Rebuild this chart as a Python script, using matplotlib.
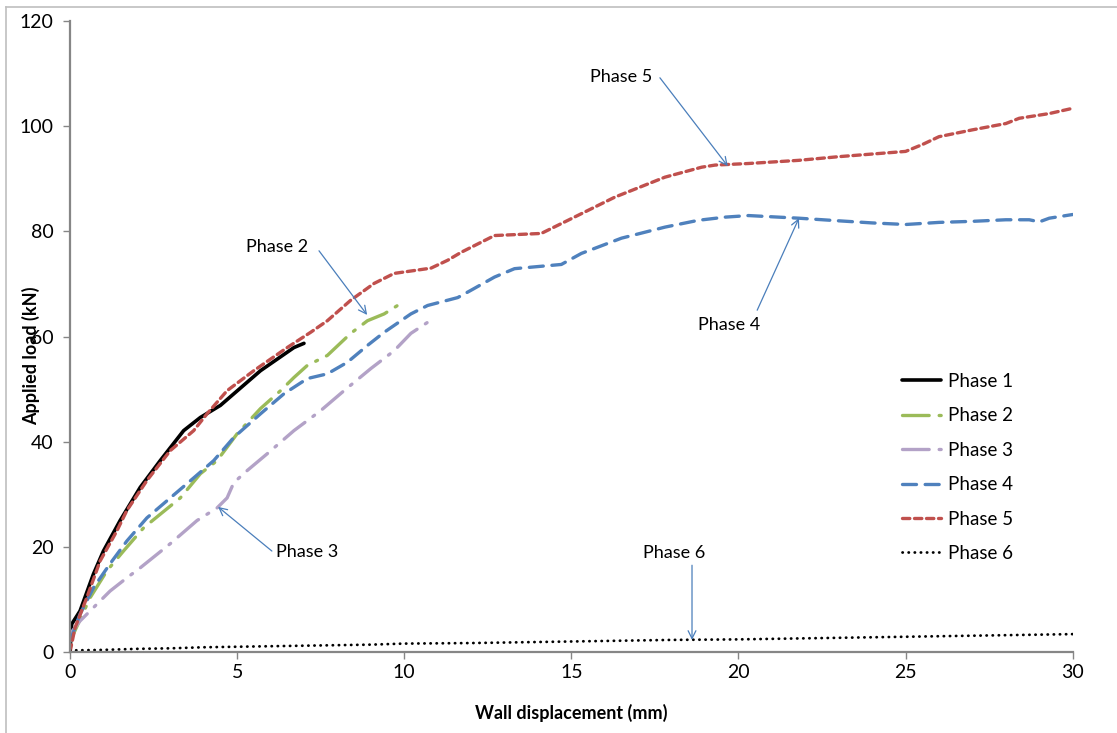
import matplotlib
matplotlib.use("Agg")
import matplotlib.pyplot as plt
from matplotlib.lines import Line2D

plt.rcParams['font.family'] = ['Lato', 'DejaVu Sans']

# Load-displacement curves for each test phase
p1_x = [0, 0.05, 0.3, 0.7, 1.0, 1.5, 2.1, 2.7, 3.4, 3.9, 4.5, 4.9, 5.7, 6.7, 7.0]
p1_y = [0.2, 5.3, 7.8, 14.8, 19.2, 25.0, 31.3, 36.4, 42.1, 44.6, 46.9, 49.1, 53.5, 57.9, 58.7]

p2_x = [0, 0.6, 1.1, 1.6, 2.2, 2.7, 3.3, 3.9, 4.4, 5.0, 5.7, 6.3, 6.7, 7.1, 7.7, 8.4, 8.9, 9.4, 9.8]
p2_y = [2.0, 10.3, 15.4, 19.2, 23.6, 26.2, 29.3, 33.9, 36.4, 41.5, 46.3, 49.7, 52.2, 54.5, 56.4,
        60.6, 63.0, 64.3, 65.9]

p3_x = [0, 0.3, 0.9, 1.2, 1.7, 2.1, 3.0, 3.8, 4.4, 4.7, 4.9, 5.3, 5.9, 6.7, 7.5, 8.2, 9.0, 9.7,
        10.2, 10.7]
p3_y = [3.4, 5.9, 9.7, 11.6, 14.1, 16.0, 20.6, 25.0, 27.4, 29.3, 32.2, 34.5, 37.7, 42.1, 45.9,
        49.7, 53.9, 57.3, 60.6, 62.7]

p4_x = [0, 0.3, 0.7, 1.2, 1.7, 2.3, 3.0, 3.7, 4.3, 4.9, 5.7, 6.4, 7.1, 7.7, 8.3, 8.9, 9.4, 10.2,
        10.7, 11.6, 12.0, 12.7, 13.3, 14.7, 15.3, 16.5, 17.8, 18.8, 19.6, 20.3, 21.8, 23.0, 24.0,
        25.0, 26.0, 27.0, 28.0, 28.7, 29.0, 29.3, 30.0]
p4_y = [2.0, 7.2, 12.2, 16.8, 21.1, 25.5, 29.3, 33.1, 36.4, 40.8, 45.3, 49.1, 52.0, 52.9, 55.1,
        58.3, 60.8, 64.3, 65.9, 67.4, 68.8, 71.3, 72.9, 73.7, 75.8, 78.7, 80.8, 82.1, 82.7, 83.0,
        82.5, 82.0, 81.6, 81.3, 81.7, 81.9, 82.2, 82.2, 81.8, 82.5, 83.2]

p5_x = [0, 0.15, 0.5, 0.9, 1.4, 1.7, 2.3, 3.0, 3.7, 4.1, 4.7, 5.5, 6.5, 7.2, 7.7, 8.4, 9.1, 9.7,
        10.8, 11.3, 11.7, 12.7, 14.1, 14.9, 16.3, 17.8, 18.9, 19.3, 20.3, 21.8, 23.0, 24.0, 25.0,
        25.5, 26.0, 27.0, 28.0, 28.4, 29.3, 30.0]
p5_y = [0, 4.6, 10.3, 17.3, 23.0, 26.9, 32.6, 38.3, 42.1, 45.3, 49.7, 53.5, 57.9, 60.8, 63.0,
        66.9, 70.1, 72.0, 73.0, 74.5, 76.0, 79.2, 79.6, 82.1, 86.5, 90.3, 92.2, 92.6, 92.9, 93.5,
        94.2, 94.7, 95.2, 96.5, 98.0, 99.3, 100.5, 101.5, 102.4, 103.4]

p6_x = [0, 1, 2, 3, 4, 5, 6, 7, 8, 9, 10, 12, 14, 16, 18, 20, 22, 24, 26, 28, 30]
p6_y = [0.3, 0.4, 0.6, 0.7, 0.9, 1.0, 1.1, 1.2, 1.3, 1.4, 1.6, 1.7, 1.9, 2.1, 2.3, 2.4, 2.6,
        2.8, 3.0, 3.2, 3.4]

labels = ["Phase 1", "Phase 2", "Phase 3", "Phase 4", "Phase 5", "Phase 6"]
x_ticks = [0, 5, 10, 15, 20, 25, 30]
y_ticks = [0, 20, 40, 60, 80, 100, 120]

# Callout labels: (text, text position, arrow start, arrow tip)
callouts = [
    ("Phase 5", (16.49, 109.3), (17.65, 109.2), (19.68, 92.4)),
    ("Phase 4", (19.73, 62.2), (20.56, 65.0), (21.81, 82.5)),
    ("Phase 2", (6.19, 77.0), (7.45, 76.3), (8.89, 64.1)),
    ("Phase 3", (7.09, 19.0), (6.04, 19.2), (4.43, 27.6)),
    ("Phase 6", (18.07, 18.8), (18.61, 16.5), (18.61, 2.3)),
]

W, H = 1117, 733
fig = plt.figure(figsize=(W / 100, H / 100), dpi=100)
ax = fig.add_axes([70 / W, (H - 652) / H, 1002.7 / W, 631 / H])

ax.plot(p1_x, p1_y, color="black", lw=2.6, solid_capstyle="round", label=labels[0])
ax.plot(p2_x, p2_y, color="#9bbb59", lw=2.4, dashes=(8, 3, 0.6, 3),
        dash_capstyle="round", label=labels[1])
ax.plot(p3_x, p3_y, color="#b3a2c7", lw=2.4, dashes=(8, 3, 0.6, 3),
        dash_capstyle="round", label=labels[2])
ax.plot(p4_x, p4_y, color="#4f81bd", lw=2.4, dashes=(4.2, 2.6),
        dash_capstyle="round", label=labels[3])
ax.plot(p5_x, p5_y, color="#c0504d", lw=2.4, dashes=(2.2, 1.4),
        dash_capstyle="round", label=labels[4])
ax.plot(p6_x, p6_y, color="black", lw=2.0, dashes=(0.1, 2.1),
        dash_capstyle="round", label=labels[5])

ax.set_xlim(0, 30)
ax.set_ylim(0, 120)
ax.set_xticks(x_ticks)
ax.set_yticks(y_ticks)

for side in ("top", "right"):
    ax.spines[side].set_visible(False)
for side in ("left", "bottom"):
    ax.spines[side].set_color("#868686")
    ax.spines[side].set_linewidth(1.6)
ax.tick_params(axis="both", direction="out", length=5, width=1.0, color="#868686",
               labelsize=14, labelcolor="black")
ax.tick_params(axis="y", pad=7)
ax.tick_params(axis="x", pad=4)

ax.set_xlabel("Wall displacement (mm)", fontsize=13, fontweight="bold")
ax.set_ylabel("Applied load (kN)", fontsize=13, fontweight="bold")
ax.xaxis.set_label_coords(0.5, -0.083, transform=ax.transAxes)
ax.yaxis.set_label_coords(-0.03, 0.47, transform=ax.transAxes)

for text, tpos, start, tip in callouts:
    ax.annotate("", xy=tip, xytext=start,
                arrowprops=dict(arrowstyle="->", color="#4a7ebb", lw=0.9,
                                shrinkA=0, shrinkB=0, mutation_scale=14))
    ax.text(tpos[0], tpos[1], text, fontsize=13, ha="center", va="center")

ax.legend(loc="upper left", bbox_to_anchor=(0.83, 0.4425), frameon=False,
          fontsize=13.5, handlelength=2.05, handletextpad=0.4, labelspacing=0.93,
          borderaxespad=0, borderpad=0)

# Chart area border (top and left edges)
fig.add_artist(Line2D([6 / W, 6 / W], [0, 1 - 7 / H], transform=fig.transFigure,
                      color="#bfbfbf", lw=1.2))
fig.add_artist(Line2D([6 / W, 1], [1 - 7 / H, 1 - 7 / H], transform=fig.transFigure,
                      color="#bfbfbf", lw=1.2))

fig.savefig("out.png", dpi=100)
